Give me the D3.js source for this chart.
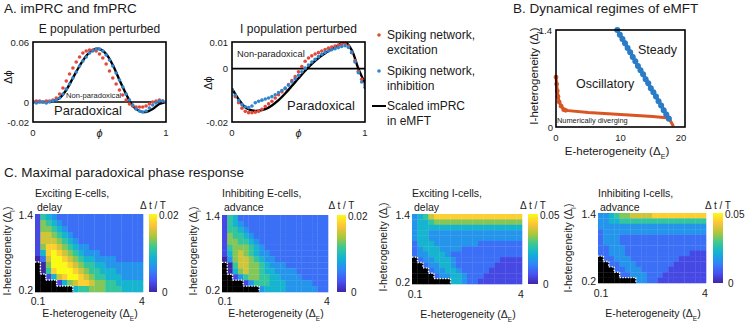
<!DOCTYPE html>
<html>
<head>
<meta charset="utf-8">
<script src="https://cdn.jsdelivr.net/npm/d3@7"></script>
<style>
  body { margin: 0; background: #fff; }
  svg text { font-family: "Liberation Sans", Arial, sans-serif; fill: #1a1a1a; }
</style>
</head>
<body>
<svg id="fig" width="745" height="324"></svg>
<script>
// ---------- Panel A data (phase response curves) ----------
const phiDots = d3.range(0, 41).map(i => i / 40);

const excE = [0.000, 0.001, 0.001, 0.000, 0.001, 0.001, 0.002, 0.004, 0.008, 0.014,
  0.021, 0.028, 0.034, 0.040, 0.045, 0.049, 0.051, 0.052, 0.052, 0.051,
  0.048, 0.044, 0.038, 0.031, 0.024, 0.018, 0.012, 0.007, 0.002, -0.002,
  -0.004, -0.005, -0.005, -0.005, -0.004, -0.002, 0.000, 0.001, 0.002, 0.001, 0.000];
const inhE = [0.000, -0.001, 0.000, 0.000, -0.001, 0.000, 0.001, 0.002, 0.004, 0.008,
  0.013, 0.018, 0.024, 0.030, 0.036, 0.041, 0.045, 0.049, 0.051, 0.053,
  0.053, 0.051, 0.047, 0.042, 0.036, 0.029, 0.022, 0.015, 0.008, 0.002,
  -0.003, -0.007, -0.009, -0.010, -0.009, -0.006, -0.003, -0.001, 0.001, 0.001, 0.000];
const excI = [-0.0080, -0.0105, -0.0128, -0.0148, -0.0160, -0.0165, -0.0165, -0.0163, -0.0160, -0.0152,
  -0.0142, -0.0132, -0.0122, -0.0110, -0.0098, -0.0087, -0.0075, -0.0060, -0.0045, -0.0030,
  -0.0012, 0.0008, 0.0028, 0.0040, 0.0048, 0.0055, 0.0060, 0.0066, 0.0072, 0.0077,
  0.0081, 0.0085, 0.0089, 0.0093, 0.0093, 0.0085, 0.0060, 0.0030, -0.0010, -0.0040, -0.0060];
const inhI = [-0.0080, -0.0100, -0.0120, -0.0135, -0.0143, -0.0146, -0.0140, -0.0128, -0.0122, -0.0118,
  -0.0114, -0.0110, -0.0105, -0.0098, -0.0090, -0.0082, -0.0073, -0.0062, -0.0050, -0.0038,
  -0.0025, -0.0012, 0.0002, 0.0014, 0.0025, 0.0035, 0.0045, 0.0054, 0.0061, 0.0066,
  0.0071, 0.0075, 0.0079, 0.0083, 0.0086, 0.0080, 0.0062, 0.0025, -0.0015, -0.0050, -0.0070];

const phiModel = [0, 0.05, 0.1, 0.15, 0.2, 0.25, 0.3, 0.35, 0.4, 0.45, 0.5,
  0.55, 0.6, 0.65, 0.7, 0.75, 0.8, 0.85, 0.9, 0.95, 1];
const modelE = [0, 0, 0, 0.001, 0.004, 0.012, 0.024, 0.036, 0.046, 0.052, 0.053,
  0.048, 0.037, 0.022, 0.008, -0.004, -0.009, -0.010, -0.007, -0.002, 0];
const modelI = [-0.0075, -0.0115, -0.0145, -0.0157, -0.0158, -0.0152, -0.0138, -0.0118, -0.0093, -0.0065, -0.0036,
  -0.0008, 0.0018, 0.0040, 0.0058, 0.0073, 0.0088, 0.0100, 0.0070, 0.0000, -0.0055];

// ---------- Panel B data (regime boundaries) ----------
const steadyDE = [9.5, 9.9, 10.3, 10.7, 11.1, 11.5, 11.9, 12.3, 12.7, 13.1, 13.5,
  13.9, 14.3, 14.7, 15.1, 15.5, 15.9, 16.3, 16.7, 17.1, 17.5];
const steadyDI = [1.40, 1.33, 1.27, 1.21, 1.14, 1.08, 1.01, 0.95, 0.88, 0.82, 0.76,
  0.69, 0.63, 0.56, 0.50, 0.44, 0.37, 0.31, 0.24, 0.18, 0.12];
const divergeDE = [0, 0.1, 0.2, 0.3, 0.5, 0.8, 1.2, 1.5, 5, 10, 15, 17.5, 18.2];
const divergeDI = [0.72, 0.62, 0.52, 0.44, 0.36, 0.30, 0.25, 0.24, 0.21, 0.18, 0.15, 0.13, 0.01];

// ---------- Panel C data (heatmaps) ----------
// rows: I-heterogeneity 1.4 (top) .. 0.2 (bottom); columns: E-heterogeneity 0.1 .. 4
// each digit d = d/9 of the colour-bar maximum, "#" = no oscillation (black)
const gridExcE = [
  "15432222222222222222",
  "16543222222222222222",
  "16654322222222222222",
  "17765432222222222222",
  "17776543222222222222",
  "16887654332222222222",
  "14898765433322222222",
  "02799876544333322222",
  "#0699987655443333333",
  "#0589998765544433333",
  "##147899876554443333",
  "####1467887665544444",
  "#######4556665554444"];
const gridInhE = [
  "15422222222222222222",
  "15432222222222222222",
  "15543222222222222222",
  "16554322222222222222",
  "16655432222222222222",
  "15666543222222222222",
  "14676543322222222222",
  "03677654332222222222",
  "#0577665433322222222",
  "#0467665443333222222",
  "##135665544333322222",
  "####1355544433333222",
  "#######3444433333322"];
const gridExcI = [
  "34578888888888888888",
  "34456666666666666666",
  "34444444444444444444",
  "34433333333333333333",
  "34433333333333333333",
  "24443333333322222222",
  "23444333322222222222",
  "23344432222222222222",
  "#2334443222222221111",
  "##233443222222211111",
  "###23344322222111111",
  "####2334432221111111",
  "#######4432211111111"];
const gridInhI = [
  "33456677778888888888",
  "33445555555555555555",
  "33333333333333333333",
  "23333333333333333333",
  "23332222222222222222",
  "23332222222222222222",
  "22333222222222222222",
  "22333222222222222111",
  "#2233322222222211111",
  "##223332222222111111",
  "###22333222221111111",
  "####2233322211111111",
  "#######3322111111111"];
const cbMaxE = 0.02, cbMaxI = 0.05;

const parula = ["#3e26a8", "#4852f4", "#2e87f7", "#12b1d6", "#37c897",
  "#abc739", "#fec338", "#f9fb15"];

const svg = d3.select("#fig");
const defs = svg.append("defs");
const RED = "#e2493b", BLUE = "#2f86cf", ORANGE = "#d95523", BBLUE = "#2a7cc6";

function txt(x, y, s, size, anchor) {
  return svg.append("text").attr("x", x).attr("y", y)
    .attr("font-size", size).attr("text-anchor", anchor || "start").text(s);
}

// label "X-heterogeneity (Δ_sub)"
function hetLabel(x, y, main, sub, size, rotate) {
  const t = svg.append("text").attr("x", x).attr("y", y)
    .attr("font-size", size).attr("text-anchor", "middle");
  if (rotate) t.attr("transform", `rotate(-90,${x},${y})`);
  t.append("tspan").text(main + "(Δ");
  t.append("tspan").attr("font-size", size * 0.62).attr("dy", size * 0.35).text(sub);
  t.append("tspan").attr("dy", -size * 0.35).text(")");
}

// ---------- titles ----------
txt(4, 13, "A. imPRC and fmPRC", 13.5);
txt(513, 13, "B. Dynamical regimes of eMFT", 13.5);
txt(4, 177, "C. Maximal paradoxical phase response", 13.5);

// ---------- Panel A ----------
function drawPRC(o) {
  const x = d3.scaleLinear([0, 1], [o.left, o.right]);
  const y = d3.scaleLinear(o.yDomain, [o.bottom, o.top]);
  defs.append("clipPath").attr("id", o.id).append("rect")
    .attr("x", o.left).attr("y", o.top)
    .attr("width", o.right - o.left).attr("height", o.bottom - o.top);
  const g = svg.append("g").attr("clip-path", `url(#${o.id})`);

  g.append("line").attr("x1", o.left).attr("x2", o.right)
    .attr("y1", y(0)).attr("y2", y(0))
    .attr("stroke", "#000").attr("stroke-width", 1.6);

  g.append("path").datum(o.model)
    .attr("d", d3.line().x((d, i) => x(phiModel[i])).y(d => y(d)).curve(d3.curveCatmullRom))
    .attr("fill", "none").attr("stroke", "#000").attr("stroke-width", 2.4);

  [[o.exc, RED], [o.inh, BLUE]].forEach(([vals, col]) => {
    g.append("g").selectAll("circle").data(vals).join("circle")
      .attr("cx", (d, i) => x(phiDots[i])).attr("cy", d => y(d))
      .attr("r", 1.8).attr("fill", col);
  });

  svg.append("rect").attr("x", o.left).attr("y", o.top)
    .attr("width", o.right - o.left).attr("height", o.bottom - o.top)
    .attr("fill", "none").attr("stroke", "#000").attr("stroke-width", 1.6);

  o.ticks.forEach(([v, s]) => txt(o.left - 4, y(v) + 3.5, s, 9.5, "end"));
  txt(x(0), o.bottom + 14, "0", 9.5, "middle");
  txt(x(1), o.bottom + 14, "1", 9.5, "middle");
  txt(x(0.5), o.bottom + 15, "ϕ", 11, "middle").attr("font-style", "italic");
  txt(o.ylabX, o.ylabY, "Δϕ", 11, "middle")
    .attr("transform", `rotate(-90,${o.ylabX},${o.ylabY})`);
  txt(x(0.5), 33, o.title, 12, "middle");
}

drawPRC({
  id: "clipE", left: 33, right: 166, top: 42, bottom: 122,
  yDomain: [-0.02, 0.06], exc: excE, inh: inhE, model: modelE,
  ticks: [[0.06, "0.06"], [0, "0"], [-0.02, "-0.02"]],
  ylabX: 12, ylabY: 77, title: "E population perturbed"
});
txt(66, 98, "Non-paradoxical", 7.6);
txt(54, 115, "Paradoxical", 13);

drawPRC({
  id: "clipI", left: 232, right: 365, top: 42, bottom: 122,
  yDomain: [-0.02, 0.01], exc: excI, inh: inhI, model: modelI,
  ticks: [[0.01, "0.01"], [0, "0"], [-0.02, "-0.02"]],
  ylabX: 212, ylabY: 83, title: "I population perturbed"
});
txt(237, 57, "Non-paradoxical", 9.3);
txt(287, 110, "Paradoxical", 13);

// legend
svg.append("circle").attr("cx", 379).attr("cy", 35).attr("r", 1.8).attr("fill", ORANGE);
txt(387, 39, "Spiking network,", 12);
txt(387, 54, "excitation", 12);
svg.append("circle").attr("cx", 379).attr("cy", 71).attr("r", 1.8).attr("fill", BLUE);
txt(387, 75, "Spiking network,", 12);
txt(387, 90, "inhibition", 12);
svg.append("line").attr("x1", 372).attr("x2", 386).attr("y1", 106).attr("y2", 106)
  .attr("stroke", "#000").attr("stroke-width", 2);
txt(387, 110, "Scaled imPRC", 12);
txt(387, 125, "in eMFT", 12);

// ---------- Panel B ----------
{
  const x = d3.scaleLinear([0, 20], [556, 685]);
  const y = d3.scaleLinear([0, 1.4], [127, 30]);
  const line = d3.line();

  svg.append("path")
    .attr("d", line(divergeDE.map((d, i) => [x(d), y(divergeDI[i])])))
    .attr("fill", "none").attr("stroke", ORANGE).attr("stroke-width", 3)
    .attr("stroke-linejoin", "round");
  svg.append("g").selectAll("circle").data(divergeDE.slice(0, 8)).join("circle")
    .attr("cx", d => x(d)).attr("cy", (d, i) => y(divergeDI[i]))
    .attr("r", 2.4).attr("fill", ORANGE);
  svg.append("circle").attr("cx", x(17.5)).attr("cy", y(0.13)).attr("r", 2.4).attr("fill", ORANGE);

  svg.append("path")
    .attr("d", line(steadyDE.map((d, i) => [x(d), y(steadyDI[i])])))
    .attr("fill", "none").attr("stroke", BBLUE).attr("stroke-width", 3.5);
  svg.append("g").selectAll("circle").data(steadyDE).join("circle")
    .attr("cx", d => x(d)).attr("cy", (d, i) => y(steadyDI[i]))
    .attr("r", 3).attr("fill", BBLUE);

  svg.append("rect").attr("x", x(0)).attr("y", y(1.4))
    .attr("width", x(20) - x(0)).attr("height", y(0) - y(1.4))
    .attr("fill", "none").attr("stroke", "#000").attr("stroke-width", 1.6);

  txt(552, y(1.4) + 4, "1.4", 9.5, "end");
  txt(553, y(0) + 4, "0", 9.5, "end");
  txt(x(0), 141, "0", 9.5, "middle");
  txt(x(10), 141, "10", 9.5, "middle");
  txt(x(20) - 4, 141, "20", 9.5, "middle");

  txt(638, 54, "Steady", 12.5);
  txt(576, 88, "Oscillatory", 12.5);
  txt(557, 123, "Numerically diverging", 7.4);

  hetLabel(617, 155, "E-heterogeneity  ", "E", 11.5, false);
  hetLabel(538, 76, "I-heterogeneity ", "I", 11.5, true);
}

// ---------- Panel C ----------
const cScale = (max) => d3.scaleLinear(
  parula.map((c, i) => i / (parula.length - 1) * max), parula);

{
  const lg = defs.append("linearGradient").attr("id", "parulaGrad")
    .attr("x1", 0).attr("y1", 1).attr("x2", 0).attr("y2", 0);
  parula.forEach((c, i) => lg.append("stop")
    .attr("offset", i / (parula.length - 1)).attr("stop-color", c));
}

function drawHeat(o) {
  const rows = o.grid.length, cols = o.grid[0].length;
  const xb = d3.scaleBand(d3.range(cols), [o.left, o.right]);
  const yb = d3.scaleBand(d3.range(rows), [o.top, o.bottom]);
  const color = cScale(o.max);
  const cells = [];
  o.grid.forEach((row, r) => row.split("").forEach((ch, c) => cells.push({ r, c, ch })));
  const isBlack = (r, c) => r >= 0 && r < rows && c >= 0 && c < cols && o.grid[r][c] === "#";

  svg.append("g").selectAll("rect").data(cells).join("rect")
    .attr("x", d => xb(d.c)).attr("y", d => yb(d.r))
    .attr("width", xb.bandwidth() + 0.3).attr("height", yb.bandwidth() + 0.3)
    .attr("fill", d => d.ch === "#" ? "#000" : color(+d.ch / 9 * o.max));

  // white dotted edge of the black region
  const segs = [];
  cells.filter(d => d.ch === "#").forEach(d => {
    const x0 = xb(d.c), x1 = x0 + xb.bandwidth(), y0 = yb(d.r), y1 = y0 + yb.bandwidth();
    if (d.c + 1 < cols && !isBlack(d.r, d.c + 1)) segs.push([x1, y0, x1, y1]);
    if (d.r - 1 >= 0 && !isBlack(d.r - 1, d.c)) segs.push([x0, y0, x1, y0]);
  });
  svg.append("g").selectAll("line").data(segs).join("line")
    .attr("x1", d => d[0]).attr("y1", d => d[1]).attr("x2", d => d[2]).attr("y2", d => d[3])
    .attr("stroke", "#fff").attr("stroke-width", 1.4).attr("stroke-dasharray", "1.4,1.4");

  // colour bar
  svg.append("rect").attr("x", o.cbX).attr("y", o.top).attr("width", o.cbW)
    .attr("height", o.bottom - o.top).attr("fill", "url(#parulaGrad)");
  txt(o.cbX + o.cbW / 2, 209, "Δ t / T", 10, "middle");
  txt(o.cbX + o.cbW + 2, o.top + 5, o.maxLabel, 10);
  txt(o.cbX + o.cbW + 5, o.bottom + 4, "0", 10);

  // axes text
  const x = d3.scaleLinear([0.1, 4], [o.left, o.right]);
  const y = d3.scaleLinear([0.2, 1.4], [o.bottom, o.top]);
  txt(o.left - 2, y(1.4) + 5, "1.4", 10.5, "end");
  txt(o.left - 2, y(0.2) + 2, "0.2", 10.5, "end");
  txt(x(0.1) + 3, o.xtY, "0.1", 10.5, "middle");
  txt(x(4) - 1, o.xtY, "4", 10.5, "middle");
  hetLabel((o.left + o.right) / 2 + 1, o.xlY, "E-heterogeneity ", "E", 10.5, false);
  hetLabel(o.ylX, o.ylY, "I-heterogeneity ", "I", 10.5, true);
  txt(o.left, 197, o.title1, 10.5);
  txt(o.left + 2, 211, o.title2, 10.5);
}

drawHeat({ grid: gridExcE, max: cbMaxE, maxLabel: "0.02", left: 35, right: 143, top: 214, bottom: 292,
  cbX: 149, cbW: 8, xtY: 305, xlY: 317, ylX: 11, ylY: 251, title1: "Exciting E-cells,", title2: "delay" });
drawHeat({ grid: gridInhE, max: cbMaxE, maxLabel: "0.02", left: 222, right: 328, top: 215, bottom: 292,
  cbX: 337, cbW: 9, xtY: 305, xlY: 317, ylX: 197, ylY: 251, title1: "Inhibiting E-cells,", title2: "advance" });
drawHeat({ grid: gridExcI, max: cbMaxI, maxLabel: "0.05", left: 412, right: 522, top: 214, bottom: 284,
  cbX: 528, cbW: 10, xtY: 298, xlY: 318, ylX: 387, ylY: 247, title1: "Exciting I-cells,", title2: "delay" });
drawHeat({ grid: gridInhI, max: cbMaxI, maxLabel: "0.05", left: 598, right: 706, top: 213, bottom: 283,
  cbX: 713, cbW: 10, xtY: 297, xlY: 317, ylX: 572, ylY: 248, title1: "Inhibiting I-cells,", title2: "advance" });
</script>
</body>
</html>
